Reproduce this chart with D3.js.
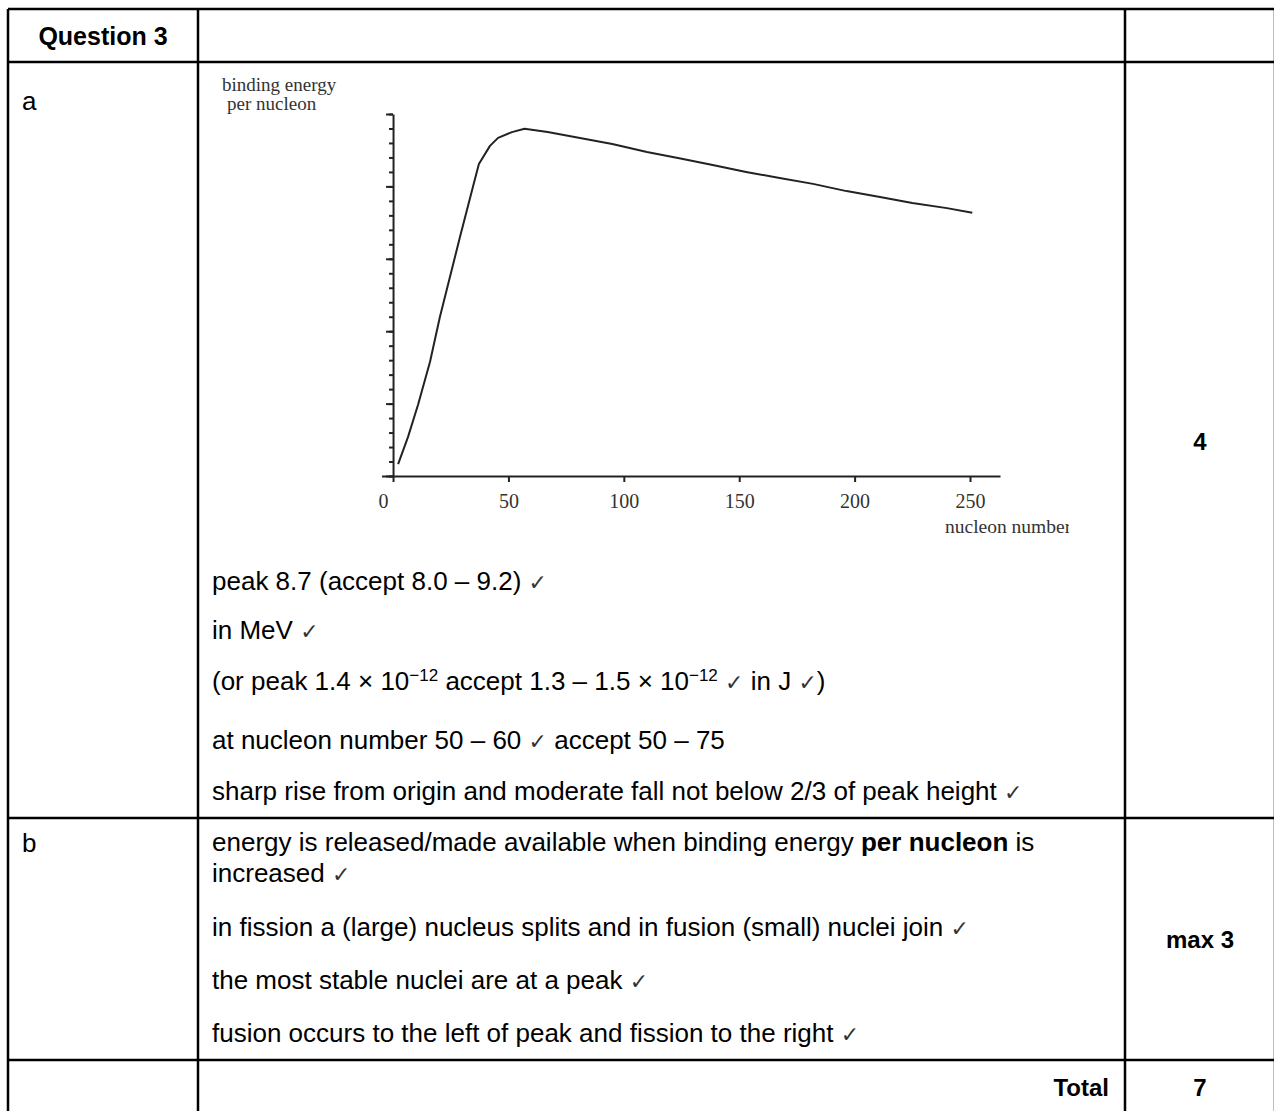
<!DOCTYPE html>
<html>
<head>
<meta charset="utf-8">
<script src="https://cdn.jsdelivr.net/npm/d3@7"></script>
<style>
    body { margin: 0; background: #fff; }
    svg { display: block; }
</style>
</head>
<body>
<div id="sheet"></div>
<script>
// curve (nucleon number vs binding energy per nucleon, axis units 0-10)
const nucleonNumber = [2.2, 6.5, 10.8, 16, 20.3, 29, 34.6, 37.2, 42, 45.5, 51.5, 57, 67, 81, 95, 110, 124, 138.5, 153, 167.5, 182, 196.5, 211, 225, 240, 251];
const bindingEnergy = [0.33, 1.08, 1.96, 3.15, 4.39, 6.6, 7.98, 8.62, 9.12, 9.34, 9.5, 9.59, 9.5, 9.34, 9.17, 8.95, 8.78, 8.59, 8.4, 8.23, 8.07, 7.87, 7.71, 7.54, 7.4, 7.27];
const xTickValues = [0, 50, 100, 150, 200, 250];
const yMajorTicks = [0, 2, 4, 6, 8, 10];

const yAxisLabel = ['binding energy', 'per nucleon'];
const xAxisLabel = 'nucleon number';

const markLinesA = [
    [{ t: 'peak 8.7 (accept 8.0 – 9.2) ' }, { t: '✓', tick: true }],
    [{ t: 'in MeV ' }, { t: '✓', tick: true }],
    [{ t: '(or peak 1.4 × 10' }, { t: '−12', sup: true }, { t: ' accept 1.3 – 1.5 × 10' }, { t: '−12', sup: true }, { t: ' ' }, { t: '✓', tick: true }, { t: ' in J ' }, { t: '✓', tick: true }, { t: ')' }],
    [{ t: 'at nucleon number 50 – 60 ' }, { t: '✓', tick: true }, { t: ' accept 50 – 75' }],
    [{ t: 'sharp rise from origin and moderate fall not below 2/3 of peak height ' }, { t: '✓', tick: true }]
];
const markLinesB = [
    [{ t: 'energy is released/made available when binding energy ' }, { t: 'per nucleon', bold: true }, { t: ' is' }],
    [{ t: 'increased ' }, { t: '✓', tick: true }],
    [{ t: 'in fission a (large) nucleus splits and in fusion (small) nuclei join ' }, { t: '✓', tick: true }],
    [{ t: 'the most stable nuclei are at a peak ' }, { t: '✓', tick: true }],
    [{ t: 'fusion occurs to the left of peak and fission to the right ' }, { t: '✓', tick: true }]
];

const W = 1274, H = 1111;
const sans = "'Liberation Sans', Arial, sans-serif";
const serif = "'Liberation Serif', 'Times New Roman', serif";

const svg = d3.select('#sheet').append('svg')
    .attr('width', W)
    .attr('height', H);

// table grid
const colX = [8, 198, 1125, 1275];
const rowY = [9, 62, 818, 1060, 1115];
const grid = svg.append('g').attr('stroke', '#000').attr('stroke-width', 2.5);
rowY.forEach(y => grid.append('line').attr('x1', colX[0]).attr('x2', colX[3]).attr('y1', y).attr('y2', y));
colX.forEach(x => grid.append('line').attr('x1', x).attr('x2', x).attr('y1', rowY[0]).attr('y2', rowY[4]));

function cellText(x, y, str, opts = {}) {
    return svg.append('text')
        .attr('x', x)
        .attr('y', y)
        .attr('font-family', sans)
        .attr('font-size', opts.size || 24)
        .attr('font-weight', opts.bold ? 'bold' : 'normal')
        .attr('text-anchor', opts.anchor || 'start')
        .text(str);
}

cellText(103, 45, 'Question 3', { bold: true, size: 25, anchor: 'middle' });
cellText(22, 110, 'a', { size: 26 });
cellText(22, 852, 'b', { size: 26 });
cellText(1200, 450, '4', { bold: true, anchor: 'middle' });
cellText(1200, 948, 'max 3', { bold: true, anchor: 'middle' });
cellText(1109, 1096, 'Total', { bold: true, anchor: 'end' });
cellText(1200, 1096, '7', { bold: true, anchor: 'middle' });

function richLine(x, y, parts) {
    const t = svg.append('text')
        .attr('x', x)
        .attr('y', y)
        .attr('font-family', sans)
        .attr('font-size', 26)
        .attr('fill', '#000');
    parts.forEach(p => {
        const s = t.append('tspan').text(p.t);
        if (p.bold) s.attr('font-weight', 'bold');
        if (p.sup) s.attr('font-size', 17).attr('baseline-shift', '55%');
        if (p.tick) s.attr('font-family', "'DejaVu Sans', sans-serif").attr('font-size', 22).attr('fill', '#333');
    });
}

const baseA = [590, 639, 690, 749, 800];
markLinesA.forEach((parts, i) => richLine(212, baseA[i], parts));
const baseB = [851, 882, 936, 989, 1042];
markLinesB.forEach((parts, i) => richLine(212, baseB[i], parts));

// ---- the sketch graph ----
const x = d3.scaleLinear()
    .domain([-5, 263])
    .range([381.5, 1000]);

const y = d3.scaleLinear()
    .domain([0, 10])
    .range([476, 114]);

const chart = svg.append('g');

const clip = svg.append('clipPath').attr('id', 'pageclip');
clip.append('rect').attr('x', 0).attr('y', 0).attr('width', 1069).attr('height', H);

// y axis: minor ticks then major ticks
chart.append('g')
    .attr('transform', `translate(${x(0)},0)`)
    .call(d3.axisLeft(y).tickValues(d3.range(0, 10.01, 0.4)).tickSize(4).tickSizeOuter(0).tickFormat(''))
    .call(g => g.selectAll('line').attr('stroke', '#222').attr('stroke-width', 2))
    .call(g => g.select('.domain').attr('stroke', '#222').attr('stroke-width', 2));

chart.append('g')
    .attr('transform', `translate(${x(0)},0)`)
    .call(d3.axisLeft(y).tickValues(yMajorTicks).tickSize(7).tickFormat(''))
    .call(g => g.select('.domain').remove())
    .call(g => g.selectAll('line').attr('stroke', '#222').attr('stroke-width', 2));

// x axis
chart.append('g')
    .attr('transform', `translate(0,${y(0)})`)
    .call(d3.axisBottom(x).tickValues(xTickValues).tickSize(6).tickSizeOuter(0).tickPadding(12))
    .call(g => g.select('.domain').attr('stroke', '#222').attr('stroke-width', 2))
    .call(g => g.selectAll('line').attr('stroke', '#222').attr('stroke-width', 2))
    .call(g => g.selectAll('text')
        .attr('font-family', serif)
        .attr('font-size', 20)
        .attr('fill', '#333')
        .attr('dx', d => d === 0 ? -10 : 0));

const line = d3.line()
    .x((d, i) => x(nucleonNumber[i]))
    .y(d => y(d));

chart.append('path')
    .datum(bindingEnergy)
    .attr('d', line)
    .attr('fill', 'none')
    .attr('stroke', '#222')
    .attr('stroke-width', 2)
    .attr('stroke-linejoin', 'round');

yAxisLabel.forEach((s, i) => {
    chart.append('text')
        .attr('x', i === 0 ? 222 : 227)
        .attr('y', 91 + i * 19)
        .attr('font-family', serif)
        .attr('font-size', 19)
        .attr('fill', '#333')
        .text(s);
});

chart.append('text')
    .attr('x', 945)
    .attr('y', 533)
    .attr('font-family', serif)
    .attr('font-size', 19.5)
    .attr('fill', '#333')
    .attr('clip-path', 'url(#pageclip)')
    .text(xAxisLabel);
</script>
</body>
</html>
